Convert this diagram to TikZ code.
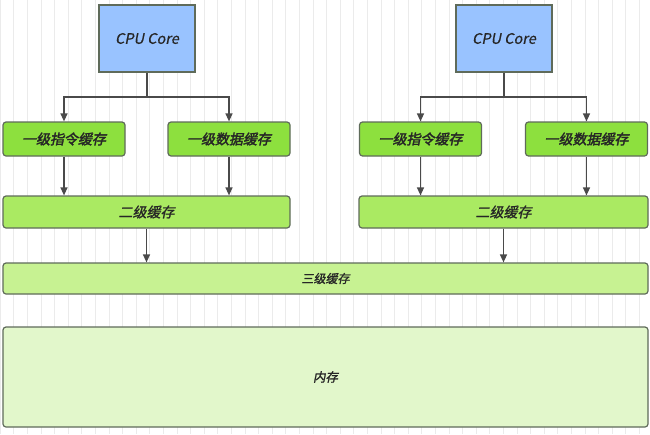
\documentclass[tikz,border=0pt]{standalone}
\usepackage{fontspec}
\usepackage{tikz}
\usepackage{xcolor}
\usetikzlibrary{arrows.meta}
\newfontfamily\cjk{Noto Sans CJK SC}[FakeSlant=0.2,FakeBold=0.6]
\newfontfamily\cjkbf{Noto Sans CJK SC}[FakeSlant=0.2,FakeBold=2.2]
\newfontfamily\cjkmd{Noto Sans CJK SC}[FakeSlant=0.2,FakeBold=1.3]
\definecolor{coreblue}{HTML}{99C3FF}
\definecolor{lonegreen}{HTML}{8DE03E}
\definecolor{ltwogreen}{HTML}{AAEA62}
\definecolor{lthreegreen}{HTML}{C7F292}
\definecolor{memgreen}{HTML}{E2F7CB}
\definecolor{edgegray}{HTML}{5F6B5A}
\definecolor{arrgray}{HTML}{4A4A4A}

\begin{document}
\begin{tikzpicture}[
      x=1pt, y=-1pt,
      base/.style={draw=edgegray, line width=1.2pt, align=center, inner sep=0pt,
                   text=black!85},
      core/.style={base, fill=coreblue, minimum width=96pt, minimum height=67pt,
                   font=\cjk\fontsize{14.5}{16}\selectfont},
      lone/.style={base, rounded corners=3pt, fill=lonegreen, minimum width=122pt,
                   minimum height=34pt, font=\cjkbf\fontsize{14}{16}\selectfont},
      ltwo/.style={base, rounded corners=3pt, fill=ltwogreen, minimum height=32pt,
                   font=\cjkmd\fontsize{14}{16}\selectfont},
      lthree/.style={base, rounded corners=3pt, fill=lthreegreen, minimum width=645pt,
                   minimum height=31pt, font=\cjkmd\fontsize{12}{14}\selectfont},
      mem/.style={base, rounded corners=3pt, fill=memgreen, minimum width=645pt,
                   minimum height=100pt, font=\cjkmd\fontsize{12.5}{14}\selectfont},
      arr/.style={-{Triangle[length=8pt, width=7pt]}, line width=1.3pt, draw=arrgray}
    ]
    \useasboundingbox (0,0) rectangle (650,434);
    \fill[white] (0,0) rectangle (650,434);
    \draw[black!8, line width=0.6pt, step=13.6] (0,0) grid (650,434);

    \node[core] (coreA) at (147,38.5) {CPU Core};
    \node[core] (coreB) at (504,38.5) {CPU Core};

    \node[lone] (insA) at (64,139)    {一级指令缓存};
    \node[lone] (datA) at (229,139)   {一级数据缓存};
    \node[lone] (insB) at (420.5,139) {一级指令缓存};
    \node[lone] (datB) at (586.5,139) {一级数据缓存};

    \node[ltwo, minimum width=287pt] (ltwoA) at (146.5,212) {二级缓存};
    \node[ltwo, minimum width=289pt] (ltwoB) at (503.5,212) {二级缓存};

    \node[lthree] (lthree) at (325.5,278.5) {三级缓存};
    \node[mem] (mem) at (325.5,377) {内存};

    \coordinate (jA) at (147,97);
    \coordinate (jB) at (504,97);
    \draw[arr] (coreA.south) -- (jA) -| (insA.north);
    \draw[arr] (jA) -| (datA.north);
    \draw[arr] (coreB.south) -- (jB) -| (insB.north);
    \draw[arr] (jB) -| (datB.north);

    \draw[arr] (insA) -- (insA |- ltwoA.north);
    \draw[arr] (datA) -- (datA |- ltwoA.north);
    \draw[arr] (insB) -- (insB |- ltwoB.north);
    \draw[arr] (datB) -- (datB |- ltwoB.north);

    \draw[arr] (ltwoA) -- (ltwoA |- lthree.north);
    \draw[arr] (ltwoB) -- (ltwoB |- lthree.north);
\end{tikzpicture}
\end{document}
